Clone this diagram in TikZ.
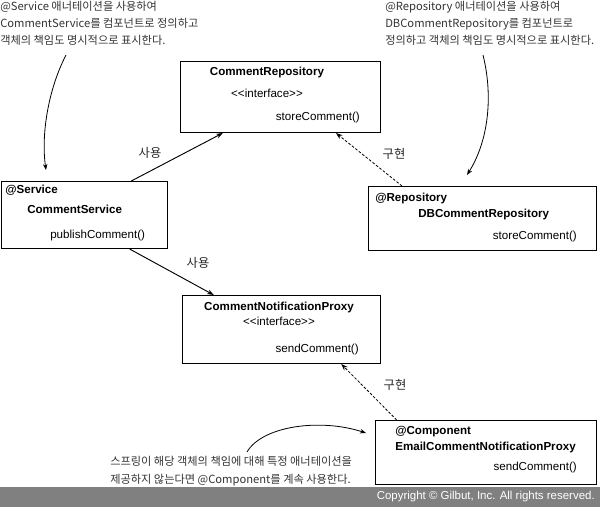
\documentclass[tikz,border=0pt]{standalone}
\usepackage{fontspec}
\setmainfont{Liberation Sans}
\newfontfamily\kr{Noto Sans CJK KR}
\usetikzlibrary{arrows.meta}
\def\px{0.75pt}

\begin{document}
\begin{tikzpicture}[x=0.75pt,y=-0.75pt,
		box/.style={draw,line width=0.75pt,inner sep=0pt,anchor=north west},
		txt/.style={inner sep=0pt,font=\fontsize{8.7}{10}\selectfont,text height=6.3pt,text depth=1.9pt},
		cls/.style={txt,font=\fontsize{8.7}{10}\selectfont\bfseries},
		lbl/.style={inner sep=0pt,text=black!85,font=\kr\fontsize{9.2}{10}\selectfont},
		note/.style={inner sep=0pt,align=left,anchor=north west,text=black!80,font=\kr\fontsize{8.4}{12.9}\selectfont},
		use/.style={-{Stealth[length=5pt,width=3.6pt]},line width=0.7pt},
		impl/.style={use,line width=0.6pt,dash pattern=on 2pt off 1.3pt},
		pointer/.style={-{Stealth[length=4.5pt,width=3.4pt]},line width=0.6pt}]
				%%%%% START %%%%%
				\useasboundingbox (0,0) rectangle (600,507);
				
				\node[box,minimum width=200*\px,minimum height=71*\px] (repo) at (180,61) {};
				\node[cls] (repoName) at (267,73) {CommentRepository};
				\node[txt] (repoType) at (267,95) {<\kern0pt<interface>\kern0pt>};
				\node[txt,anchor=east] (repoOp) at (360,118) {storeComment()};
				
				\node[box,minimum width=166*\px,minimum height=67*\px] (svc) at (1,181) {};
				\node[cls,anchor=west] (svcAnno) at (5,191) {@Service};
				\node[cls,anchor=west] (svcName) at (27,211) {CommentService};
				\node[txt,anchor=west] (svcOp) at (50,236) {publishComment()};
				
				\node[box,minimum width=228*\px,minimum height=64*\px] (dbrepo) at (368,186) {};
				\node[cls,anchor=west] (dbrepoAnno) at (375,199) {@Repository};
				\node[cls,anchor=west] (dbrepoName) at (418,215) {DBCommentRepository};
				\node[txt,anchor=east] (dbrepoOp) at (577,237) {storeComment()};
				
				\node[box,minimum width=198*\px,minimum height=68*\px] (cnp) at (182,295) {};
				\node[cls] (cnpName) at (279,308) {CommentNotificationProxy};
				\node[txt] (cnpType) at (279,323) {<\kern0pt<interface>\kern0pt>};
				\node[txt,anchor=east] (cnpOp) at (359,350) {sendComment()};
				
				\node[box,minimum width=221*\px,minimum height=64*\px] (email) at (375,420) {};
				\node[cls,anchor=west] (emailAnno) at (395,432) {@Component};
				\node[cls,anchor=west] (emailName) at (395,448) {EmailCommentNotificationProxy};
				\node[txt,anchor=east] (emailOp) at (577,468) {sendComment()};
				
				\draw[use] (svc.36) -- (repo.212);
				\draw[use] (svc.-37) -- (cnp.153);
				\draw[impl] (dbrepo.158) -- (repo.-33);
				\draw[impl] (email.160) -- (cnp.-30);
				
				\node[lbl] (useRepo) at (150,153) {사용};
				\node[lbl] (implRepo) at (394,154) {구현};
				\node[lbl] (useProxy) at (198,263) {사용};
				\node[lbl] (implProxy) at (395,385) {구현};
				
				\node[note] (svcNote) at (0,1) {@Service 애너테이션을 사용하여\\CommentService를 컴포넌트로 정의하고\\객체의 책임도 명시적으로 표시한다.};
				\node[note] (dbrepoNote) at (385,1) {@Repository 애너테이션을 사용하여\\DBCommentRepository를 컴포넌트로\\정의하고 객체의 책임도 명시적으로 표시한다.};
				\node[note,font=\kr\fontsize{8.4}{13.5}\selectfont] (emailNote) at (110,456) {스프링이 해당 객체의 책임에 대해 특정 애너테이션을\\제공하지 않는다면 @Component를 계속 사용한다.};
				
				\coordinate (svcNoteTail) at (66,55);
				\coordinate (svcNoteHead) at (46,170);
				\draw[pointer] (svcNoteTail) .. controls (48,90) and (41,135) .. (svcNoteHead);
				\coordinate (dbrepoNoteTail) at (483,55);
				\coordinate (dbrepoNoteHead) at (467,175);
				\draw[pointer] (dbrepoNoteTail) .. controls (493,95) and (489,140) .. (dbrepoNoteHead);
				\coordinate (emailNoteTail) at (247,452);
				\coordinate (emailNoteHead) at (366,433);
				\draw[pointer] (emailNoteTail) .. controls (262,426) and (320,418) .. (emailNoteHead);
				
				\fill[black!50] (0,487) rectangle (600,507);
				\node[anchor=east,inner sep=0pt,text=white,font=\fontsize{8.6}{10}\selectfont] (copyright) at (595,497) {Copyright © Gilbut, Inc. All rights reserved.};
				%%%%% END %%%%%
			\end{tikzpicture}
\end{document}
